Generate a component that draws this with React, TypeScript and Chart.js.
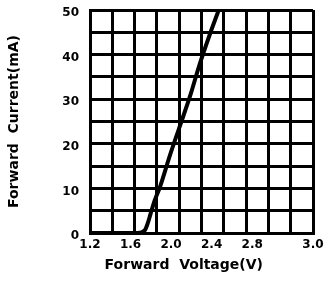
import React, { useEffect, useRef } from 'react';
import { Chart, registerables } from 'chart.js';

Chart.register(...registerables);

// Forward voltage (V) vs forward current (mA)
const voltage = [1.2, 1.67, 1.74, 1.77, 1.8, 1.84, 1.89, 1.99, 2.09, 2.19, 2.28, 2.38, 2.47];
const current = [0, 0, 0.6, 2.2, 4.5, 7.4, 10.3, 17.5, 24.2, 30.9, 37.7, 44.4, 50];

// Tick labels as printed on the chart
const xTickValues = [1.2, 1.6, 2.0, 2.4, 2.8, 3.4];
const xTickLabels = ['1.2', '1.6', '2.0', '2.4', '2.8', '3.0'];
const yTickValues = [0, 10, 20, 30, 40, 50];

const xMin = 1.2;
const xMax = 3.4;
const xColumns = 10;
const yMin = 0;
const yMax = 50;
const yGridStep = 5;

const FONT = 'DejaVu Sans';

export default function App() {
  const ref = useRef<HTMLCanvasElement | null>(null);

  useEffect(() => {
    if (!ref.current) return;
    const chart = new Chart(ref.current, {
      type: 'line',
      data: {
        datasets: [
          {
            data: voltage.map((v, i) => ({ x: v, y: current[i] })),
            borderColor: '#000',
            borderWidth: 4,
            pointRadius: 0,
            cubicInterpolationMode: 'monotone',
            fill: false,
            xAxisID: 'x',
            yAxisID: 'y',
          },
        ],
      },
      options: {
        animation: false,
        responsive: true,
        maintainAspectRatio: false,
        layout: { padding: { left: 0, right: 11, top: 10, bottom: 0 } },
        plugins: { legend: { display: false }, tooltip: { enabled: false } },
        scales: {
          x: {
            type: 'linear',
            position: 'bottom',
            min: xMin,
            max: xMax,
            afterBuildTicks: (axis: any) => {
              axis.ticks = Array.from({ length: xColumns + 1 }, (_, i) => ({
                value: xMin + (i * (xMax - xMin)) / xColumns,
              }));
            },
            ticks: { display: false },
            grid: { color: '#000', lineWidth: 3, drawTicks: false },
            border: { display: true, color: '#000', width: 3 },
            afterFit: (s: any) => {
              s.height = 0;
              s.paddingLeft = 0;
              s.paddingRight = 0;
            },
          },
          xl: {
            type: 'linear',
            position: 'bottom',
            min: xMin,
            max: xMax,
            afterBuildTicks: (axis: any) => {
              axis.ticks = xTickValues.map((v) => ({ value: v }));
            },
            ticks: {
              autoSkip: false,
              maxRotation: 0,
              padding: 5,
              color: '#000',
              font: { family: FONT, size: 12, weight: 'bold' },
              callback: (_v: any, i: number) => xTickLabels[i],
            },
            grid: { display: false, drawTicks: false },
            border: { display: false },
            title: {
              display: true,
              align: 'start',
              text: '   Forward  Voltage(V)',
              color: '#000',
              font: { family: FONT, size: 14, weight: 'bold' },
              padding: { top: 0, bottom: 7 },
            },
            afterFit: (s: any) => {
              s.height = 48;
              s.paddingLeft = 0;
              s.paddingRight = 0;
            },
          },
          y: {
            type: 'linear',
            min: yMin,
            max: yMax,
            afterBuildTicks: (axis: any) => {
              const t = [];
              for (let v = yMin; v <= yMax; v += yGridStep) t.push({ value: v });
              axis.ticks = t;
            },
            ticks: {
              autoSkip: false,
              padding: 11,
              labelOffset: 3,
              color: '#000',
              font: { family: FONT, size: 12, weight: 'bold' },
              callback: (v: any) => (yTickValues.includes(Number(v)) ? String(v) : ''),
            },
            grid: { color: '#000', lineWidth: 3, drawTicks: false },
            border: { display: true, color: '#000', width: 3 },
            title: {
              display: true,
              text: 'Forward  Current(mA)',
              color: '#000',
              font: { family: FONT, size: 14, weight: 'bold' },
              padding: { top: 6, bottom: 0 },
            },
            afterFit: (s: any) => {
              s.width = 90;
              s.paddingTop = 0;
              s.paddingBottom = 0;
            },
          },
        },
      },
    });
    return () => chart.destroy();
  }, []);

  return (
    <div style={{ position: 'absolute', left: 0, top: 0, width: 324, height: 281, background: '#fff' }}>
      <canvas ref={ref} />
    </div>
  );
}
